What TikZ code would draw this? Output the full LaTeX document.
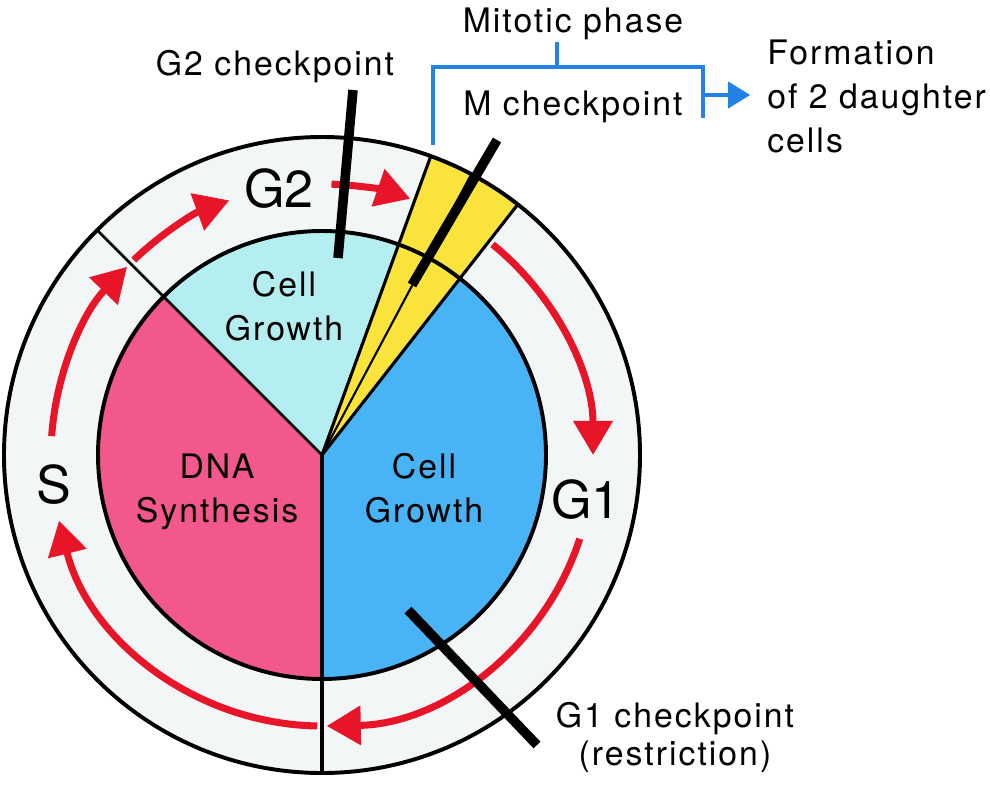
\documentclass[tikz,border=0pt]{standalone}
\usepackage{fontspec}
\setmainfont{TeX Gyre Heros}
\newfontfamily\spacedfont{TeX Gyre Heros}[LetterSpace=6]
\usetikzlibrary{arrows.meta}
\definecolor{ringgray}{RGB}{243,246,247}
\definecolor{dnapink}{RGB}{242,88,138}
\definecolor{gtwocyan}{RGB}{180,238,240}
\definecolor{goneblue}{RGB}{72,180,245}
\definecolor{myellow}{RGB}{250,228,60}
\definecolor{cyclered}{RGB}{232,20,40}
\definecolor{bracketblue}{RGB}{35,130,230}
\begin{document}
\begin{tikzpicture}[x=0.025cm,y=0.025cm,
    cyc/.style={cyclered,line width=5pt,-{Triangle[width=0.95cm,length=0.85cm]}},
    chk/.style={line width=6.8pt},
    brk/.style={bracketblue,line width=2.8pt},
    lbl/.style={font=\spacedfont\fontsize{24}{31}\selectfont,inner sep=0pt,align=center},
    big/.style={font=\fontsize{37}{40}\selectfont,inner sep=0pt}]
    \useasboundingbox (-322,-330) rectangle (668,455);
    \fill [ringgray] (0,0) circle (318);
    \fill [myellow] (0,0)--(52:318) arc (52:70:318)--cycle;
    \fill [gtwocyan] (0,0)--(70:224) arc (70:135:224)--cycle;
    \fill [dnapink] (0,0)--(135:224) arc (135:270:224)--cycle;
    \fill [goneblue] (0,0)--(-90:224) arc (-90:52:224)--cycle;
    \draw [line width=1.8pt] (0,0)--(135:318);
    \draw [line width=2.2pt] (0,0)--(270:318);
    \draw [line width=2.2pt] (0,0)--(52:318);
    \draw [line width=2.2pt] (0,0)--(70:318);
    \draw [line width=1.5pt] (0,0)--(62:318);
    \draw [line width=2.8pt] (0,0) circle (224);
    \draw [line width=2.8pt] (0,0) circle (318);
    \draw [cyc] (88:271) arc (88:71:271);
    \draw [cyc] (51:271) arc (51:0:271);
    \draw [cyc] (-18:271) arc (-18:-89:271);
    \draw [cyc] (-91:271) arc (-91:-166:271);
    \draw [cyc] (176:271) arc (176:136:271);
    \draw [cyc] (134:271) arc (134:110:271);
    \draw [chk] (31,365)--(16,197);
    \draw [chk] (175,315)--(90,170);
    \draw [chk] (86,-155)--(215,-290);
    \coordinate (mleft) at (111,310);
    \coordinate (mtick) at (235,388);
    \coordinate (mright) at (381,360);
    \draw [brk] (mleft)--(111,388)--(381,388)--(381,337);
    \draw [brk] (mtick)--(235,413);
    \node [lbl,anchor=base] (gtwocheck) at (-47,380) {G2 checkpoint};
    \node [lbl,anchor=base] (mitotic) at (251,423) {Mitotic phase};
    \node [lbl,anchor=base] (mcheck) at (251,340) {M checkpoint};
    \node [lbl,align=left,anchor=base west] (daughters) at (445,303) {Formation\\of 2 daughter\\cells};
    \node [lbl,font=\spacedfont\fontsize{24}{27}\selectfont,anchor=base] (gonecheck) at (353,-310) {G1 checkpoint\\(restriction)};
    \node [big,anchor=base] (gtwo) at (-43,248) {G2};
    \node [big,anchor=base] (gone) at (264,-63) {G1};
    \node [big,anchor=base] (sphase) at (-268,-48) {S};
    \node [lbl,anchor=base] (dna) at (-105,-67) {DNA\\Synthesis};
    \node [lbl,anchor=base] (growone) at (102,-67) {Cell\\Growth};
    \node [lbl,anchor=base] (growtwo) at (-38,115) {Cell\\Growth};
    \draw [brk,-{Triangle[width=0.65cm,length=0.55cm]},shorten >=0.42cm] (mright)--(mright -| daughters.west);
\end{tikzpicture}
\end{document}
